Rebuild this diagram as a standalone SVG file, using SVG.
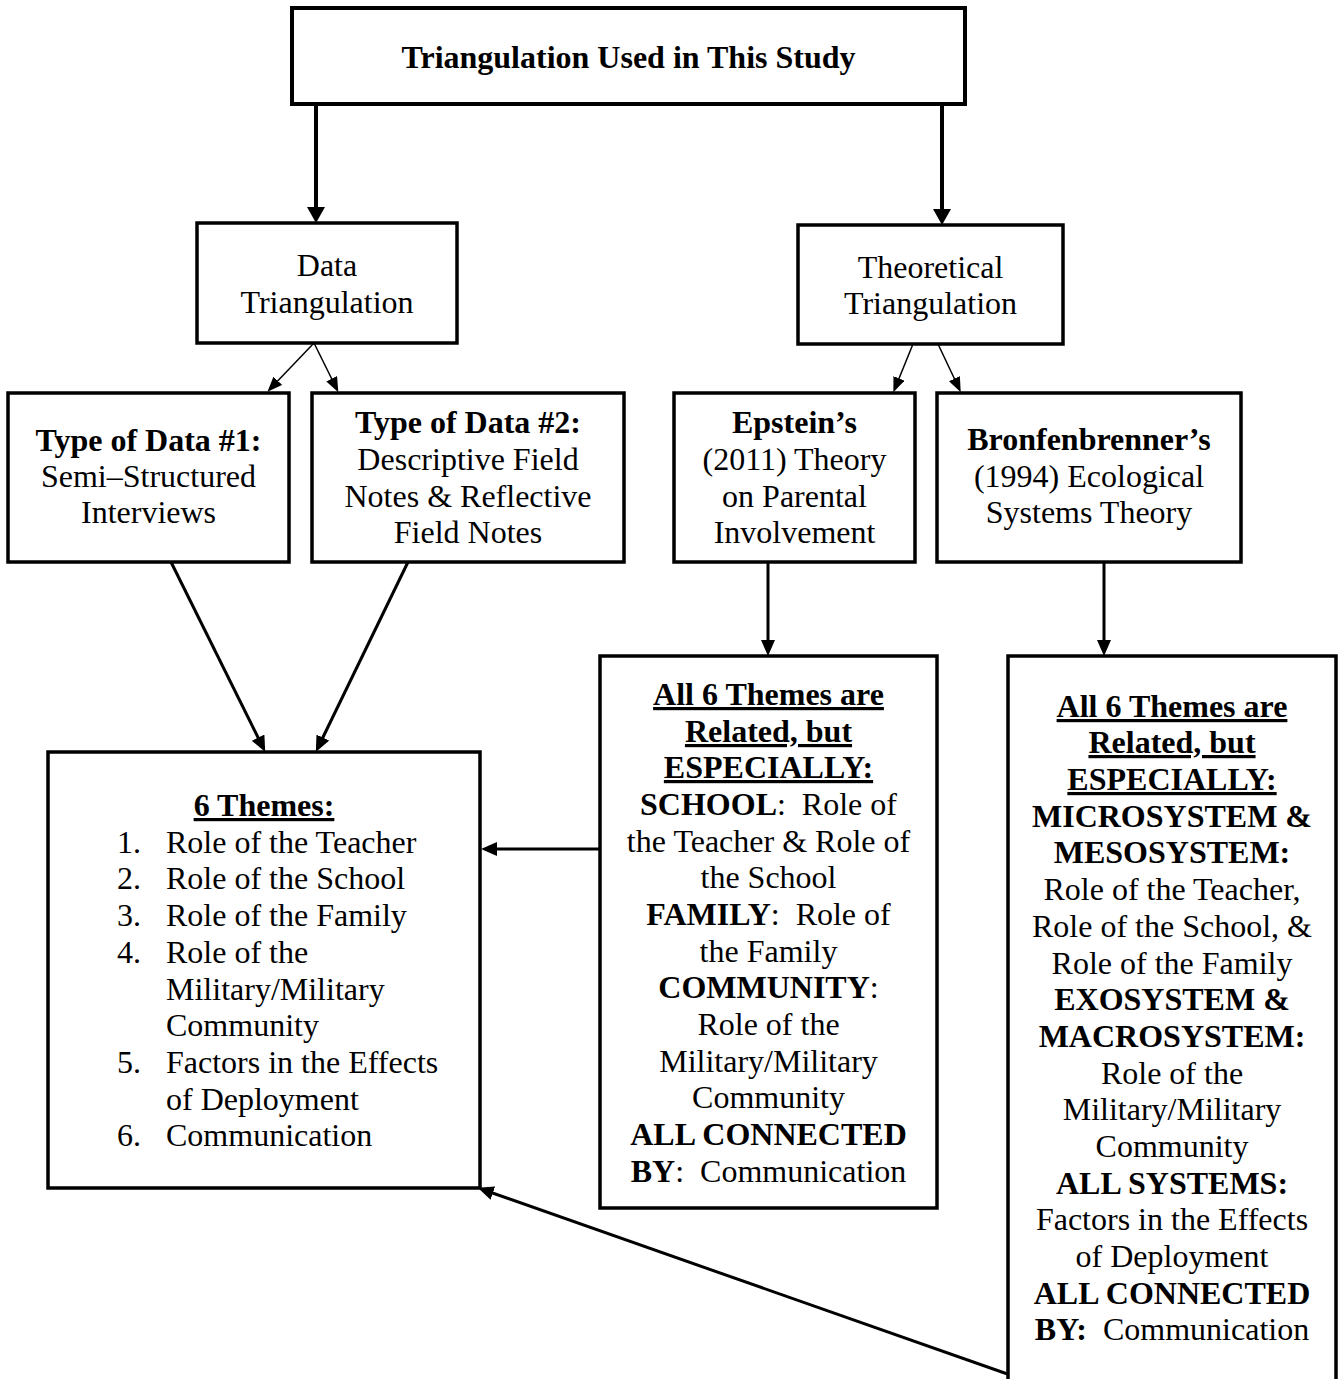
<svg xmlns="http://www.w3.org/2000/svg" width="1339" height="1379" viewBox="0 0 1339 1379">
<style>
  .box { fill: #fff; stroke: #000; stroke-width: 3.5; }
  .boxthick { fill: #fff; stroke: #000; stroke-width: 4; }
  text { font-family: "Liberation Serif", "Times New Roman", serif; font-size: 32px; fill: #000; }
  .c { text-anchor: middle; }
  .b { font-weight: bold; }
  .u { text-decoration: underline; text-decoration-thickness: 3px; }
  .thick { stroke: #000; stroke-width: 4; fill: none; }
  .mid { stroke: #000; stroke-width: 3; fill: none; }
  .thin { stroke: #000; stroke-width: 1.5; fill: none; }
</style>
<defs>
  <marker id="ah-big" viewBox="0 0 16 18" refX="11" refY="9" markerWidth="16" markerHeight="18" markerUnits="userSpaceOnUse" orient="auto">
    <path d="M0,0 L16,9 L0,18 z" fill="#000"/>
  </marker>
  <marker id="ah-mid" viewBox="0 0 16 14" refX="11" refY="7" markerWidth="16" markerHeight="14" markerUnits="userSpaceOnUse" orient="auto">
    <path d="M0,0 L16,7 L0,14 z" fill="#000"/>
  </marker>
  <marker id="ah-small" viewBox="0 0 15 12" refX="12" refY="6" markerWidth="15" markerHeight="12" markerUnits="userSpaceOnUse" orient="auto">
    <path d="M0,0 L15,6 L0,12 z" fill="#000"/>
  </marker>
</defs>
<rect width="1339" height="1379" fill="#fff"/>

<g id="connectors">
  <line class="thick" x1="316" y1="104" x2="316" y2="218" marker-end="url(#ah-big)"/>
  <line class="thick" x1="942" y1="104" x2="942" y2="220" marker-end="url(#ah-big)"/>
  <line class="thin" x1="314" y1="343" x2="269.5" y2="389.5" marker-end="url(#ah-small)"/>
  <line class="thin" x1="314" y1="343" x2="337" y2="389.5" marker-end="url(#ah-small)"/>
  <line class="thin" x1="913" y1="344" x2="894.5" y2="389.5" marker-end="url(#ah-small)"/>
  <line class="thin" x1="938" y1="344" x2="959.5" y2="389.5" marker-end="url(#ah-small)"/>
  <line class="mid" x1="171" y1="562" x2="263" y2="747.5" marker-end="url(#ah-mid)"/>
  <line class="mid" x1="408" y1="562" x2="318" y2="747.5" marker-end="url(#ah-mid)"/>
  <line class="mid" x1="768" y1="562" x2="768" y2="651" marker-end="url(#ah-mid)"/>
  <line class="mid" x1="1104" y1="562" x2="1104" y2="651" marker-end="url(#ah-mid)"/>
  <line class="mid" x1="600" y1="849" x2="486" y2="849" marker-end="url(#ah-mid)"/>
  <line class="mid" x1="1016" y1="1377" x2="482.5" y2="1189.5" marker-end="url(#ah-mid)"/>
</g>

<g id="title">
  <rect class="boxthick" x="292" y="8" width="673" height="96"/>
  <text class="c b" x="628.5" y="68">Triangulation Used in This Study</text>
</g>

<g id="data-triangulation">
  <rect class="box" x="197" y="223" width="260" height="120"/>
  <text class="c" x="327" y="276">Data</text>
  <text class="c" x="327" y="313">Triangulation</text>
</g>

<g id="theoretical-triangulation">
  <rect class="box" x="798" y="225" width="265" height="119"/>
  <text class="c" x="930.5" y="278">Theoretical</text>
  <text class="c" x="930.5" y="314">Triangulation</text>
</g>

<g id="type1">
  <rect class="box" x="8" y="393" width="281" height="169"/>
  <text class="c b" x="148.5" y="451">Type of Data #1:</text>
  <text class="c" x="148.5" y="487">Semi–Structured</text>
  <text class="c" x="148.5" y="523">Interviews</text>
</g>

<g id="type2">
  <rect class="box" x="312" y="393" width="312" height="169"/>
  <text class="c b" x="468" y="433">Type of Data #2:</text>
  <text class="c" x="468" y="470">Descriptive Field</text>
  <text class="c" x="468" y="507">Notes &amp; Reflective</text>
  <text class="c" x="468" y="543">Field Notes</text>
</g>

<g id="epstein">
  <rect class="box" x="674" y="393" width="241" height="169"/>
  <text class="c b" x="794.5" y="433">Epstein’s</text>
  <text class="c" x="794.5" y="470">(2011) Theory</text>
  <text class="c" x="794.5" y="507">on Parental</text>
  <text class="c" x="794.5" y="543">Involvement</text>
</g>

<g id="bronfenbrenner">
  <rect class="box" x="937" y="393" width="304" height="169"/>
  <text class="c b" x="1089" y="450">Bronfenbrenner’s</text>
  <text class="c" x="1089" y="487">(1994) Ecological</text>
  <text class="c" x="1089" y="523">Systems Theory</text>
</g>

<g id="six-themes">
  <rect class="box" x="48" y="752" width="432" height="436"/>
  <text class="c b u" x="264" y="816">6 Themes:</text>
  <text x="117" y="853">1.</text><text x="166" y="853">Role of the Teacher</text>
  <text x="117" y="889">2.</text><text x="166" y="889">Role of the School</text>
  <text x="117" y="926">3.</text><text x="166" y="926">Role of the Family</text>
  <text x="117" y="963">4.</text><text x="166" y="963">Role of the</text>
  <text x="166" y="1000">Military/Military</text>
  <text x="166" y="1036">Community</text>
  <text x="117" y="1073">5.</text><text x="166" y="1073">Factors in the Effects</text>
  <text x="166" y="1110">of Deployment</text>
  <text x="117" y="1146">6.</text><text x="166" y="1146">Communication</text>
</g>

<g id="epstein-themes">
  <rect class="box" x="600" y="656" width="337" height="552"/>
  <text class="c b u" x="768.5" y="705">All 6 Themes are</text>
  <text class="c b u" x="768.5" y="742">Related, but</text>
  <text class="c b u" x="768.5" y="778">ESPECIALLY:</text>
  <text class="c" x="768.5" y="815"><tspan class="b">SCHOOL</tspan>:&#160; Role of</text>
  <text class="c" x="768.5" y="852">the Teacher &amp; Role of</text>
  <text class="c" x="768.5" y="888">the School</text>
  <text class="c" x="768.5" y="925"><tspan class="b">FAMILY</tspan>:&#160; Role of</text>
  <text class="c" x="768.5" y="962">the Family</text>
  <text class="c" x="768.5" y="998"><tspan class="b">COMMUNITY</tspan>:</text>
  <text class="c" x="768.5" y="1035">Role of the</text>
  <text class="c" x="768.5" y="1072">Military/Military</text>
  <text class="c" x="768.5" y="1108">Community</text>
  <text class="c b" x="768.5" y="1145">ALL CONNECTED</text>
  <text class="c" x="768.5" y="1182"><tspan class="b">BY</tspan>:&#160; Communication</text>
</g>

<g id="bronfenbrenner-themes">
  <rect class="box" x="1008" y="656" width="328" height="740"/>
  <text class="c b u" x="1172" y="717">All 6 Themes are</text>
  <text class="c b u" x="1172" y="753">Related, but</text>
  <text class="c b u" x="1172" y="790">ESPECIALLY:</text>
  <text class="c b" x="1172" y="827">MICROSYSTEM &amp;</text>
  <text class="c b" x="1172" y="863">MESOSYSTEM:</text>
  <text class="c" x="1172" y="900">Role of the Teacher,</text>
  <text class="c" x="1172" y="937">Role of the School, &amp;</text>
  <text class="c" x="1172" y="974">Role of the Family</text>
  <text class="c b" x="1172" y="1010">EXOSYSTEM &amp;</text>
  <text class="c b" x="1172" y="1047">MACROSYSTEM:</text>
  <text class="c" x="1172" y="1084">Role of the</text>
  <text class="c" x="1172" y="1120">Military/Military</text>
  <text class="c" x="1172" y="1157">Community</text>
  <text class="c b" x="1172" y="1194">ALL SYSTEMS:</text>
  <text class="c" x="1172" y="1230">Factors in the Effects</text>
  <text class="c" x="1172" y="1267">of Deployment</text>
  <text class="c b" x="1172" y="1304">ALL CONNECTED</text>
  <text class="c" x="1172" y="1340"><tspan class="b">BY:</tspan>&#160; Communication</text>
</g>
</svg>
